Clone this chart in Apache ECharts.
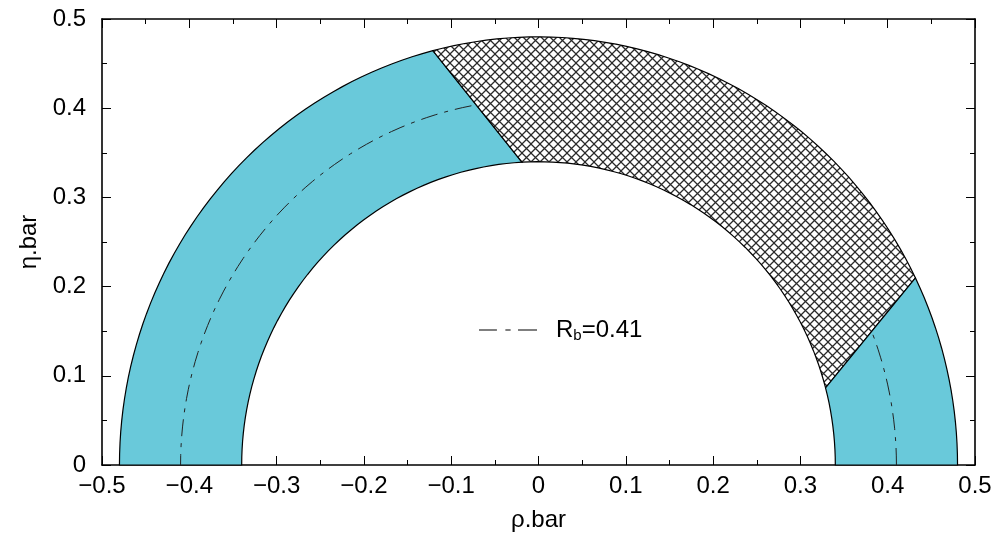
<!DOCTYPE html>
<html><head><meta charset="utf-8">
<script src="https://cdn.jsdelivr.net/npm/echarts@6/dist/echarts.min.js"></script>
<style>html,body{margin:0;padding:0;background:#fff}#c{width:997px;height:539px}</style>
</head><body><div id="c"></div>
<script>
// ---- data ----
const xTickLabels = ['\u22120.5','\u22120.4','\u22120.3','\u22120.2','\u22120.1','0','0.1','0.2','0.3','0.4','0.5'];
const yTickLabels = ['0','0.1','0.2','0.3','0.4','0.5'];
const xName = '\u03c1.bar';
const yName = '\u03b7.bar';
const innerRadius = 0.34;
const outerRadius = 0.48;
const bandRadius = 0.41;
const bandName = 'Rb=0.41';
// annulus regions, polar angles in degrees
const regionNames = ['left band', 'cross-hatched', 'right band'];
const regionOuterFrom = [104.6, 25.9, 0];
const regionOuterTo = [180, 104.6, 25.9];
const regionInnerFrom = [93.2, 14.75, 0];
const regionInnerTo = [180, 93.2, 14.75];
const regionHatched = [false, true, false];
// dash-dot arcs at R_b
const bandArcFrom = [100.8, 0];
const bandArcTo = [180, 21.3];

// ---- styles ----
const FONT = 'Liberation Sans';
const FS = 24;
const CYAN = '#69c9da';

function makeHatch() {
  const s = 9;
  const c = document.createElement('canvas');
  c.width = s; c.height = s;
  const g = c.getContext('2d');
  g.fillStyle = '#fff'; g.fillRect(0, 0, s, s);
  g.strokeStyle = '#2a2a2a'; g.lineWidth = 1.25;
  g.beginPath();
  g.moveTo(-1, -1); g.lineTo(s + 1, s + 1);
  g.moveTo(s + 1, -1); g.lineTo(-1, s + 1);
  g.stroke();
  return c;
}
const hatch = makeHatch();

function arcPts(r, a0, a1) {
  const n = Math.max(2, Math.ceil(Math.abs(a1 - a0) / 1.5));
  const pts = [];
  for (let k = 0; k <= n; k++) {
    const a = (a0 + (a1 - a0) * k / n) * Math.PI / 180;
    pts.push([r * Math.cos(a), r * Math.sin(a)]);
  }
  return pts;
}

const chart = echarts.init(document.getElementById('c'), null, {renderer: 'canvas'});
const xLab = v => xTickLabels[Math.round((v + 0.5) / 0.1)] || '';
const yLab = v => yTickLabels[Math.round(v / 0.1)] || '';
const axisCommon = {
  type: 'value',
  interval: 0.1,
  axisLine: {show: true, onZero: false, lineStyle: {color: '#000', width: 1.6}},
  axisTick: {show: true, inside: true, length: 9, lineStyle: {color: '#000', width: 1}},
  minorTick: {show: true, splitNumber: 2, length: 5, lineStyle: {color: '#000', width: 1}},
  splitLine: {show: false}
};

const option = {
  animation: false,
  backgroundColor: '#fff',
  grid: {left: 102, right: 22, top: 19, bottom: 74, containLabel: false},
  xAxis: [
    Object.assign({}, axisCommon, {
      min: -0.5, max: 0.5, position: 'bottom',
      name: xName, nameLocation: 'middle', nameGap: 43,
      nameTextStyle: {fontFamily: FONT, fontSize: FS, color: '#000'},
      axisLabel: {formatter: xLab, fontFamily: FONT, fontSize: FS, color: '#000', margin: 9}
    }),
    Object.assign({}, axisCommon, {
      min: -0.5, max: 0.5, position: 'top', axisLabel: {show: false}
    })
  ],
  yAxis: [
    Object.assign({}, axisCommon, {
      min: 0, max: 0.5, position: 'left',
      name: yName, nameLocation: 'middle', nameGap: 61,
      nameTextStyle: {fontFamily: FONT, fontSize: FS, color: '#000'},
      axisLabel: {formatter: yLab, fontFamily: FONT, fontSize: FS, color: '#000', margin: 16}
    }),
    Object.assign({}, axisCommon, {
      min: 0, max: 0.5, position: 'right', axisLabel: {show: false}
    })
  ],
  legend: {
    show: true,
    left: 474, top: 313,
    itemWidth: 58, itemHeight: 14,
    symbolKeepAspect: true,
    data: [{name: bandName, icon: 'path://M0 0H17V1.3H0Z M25 0H30V1.3H25Z M37 0H55V1.3H37Z'}],
    itemStyle: {color: '#555'},
    formatter: () => '{r|R}{s|b}{r|=0.41}',
    textStyle: {
      padding: [0, 0, 0, 14],
      rich: {
        r: {fontFamily: FONT, fontSize: FS, color: '#000'},
        s: {fontFamily: FONT, fontSize: 15, color: '#000', padding: [12, 0, 0, 0]}
      }
    }
  },
  series: [
    {
      type: 'custom',
      name: 'annulus',
      coordinateSystem: 'cartesian2d',
      silent: true,
      z: 1,
      data: regionNames.map((n, i) => ({name: n, value: [outerRadius, innerRadius, regionOuterFrom[i], regionOuterTo[i], regionInnerFrom[i], regionInnerTo[i]]})),
      renderItem: (params, api) => {
        const i = params.dataIndex;
        const ro = api.value(0), ri = api.value(1);
        const pts = arcPts(ro, api.value(2), api.value(3))
          .concat(arcPts(ri, api.value(5), api.value(4)))
          .map(p => api.coord(p));
        return {
          type: 'polygon',
          shape: {points: pts},
          style: {
            fill: regionHatched[i] ? {image: hatch, repeat: 'repeat'} : CYAN,
            stroke: '#000',
            lineWidth: 1.2
          }
        };
      }
    },
    {
      type: 'custom',
      name: bandName,
      coordinateSystem: 'cartesian2d',
      silent: true,
      z: 3,
      itemStyle: {color: '#555'},
      data: bandArcFrom.map((a, i) => [bandRadius, bandRadius, a, bandArcTo[i]]),
      renderItem: (params, api) => {
        const pts = arcPts(api.value(0), api.value(2), api.value(3)).map(p => api.coord(p));
        return {
          type: 'polyline',
          shape: {points: pts},
          style: {fill: null, stroke: '#222', lineWidth: 1, lineDash: [17, 7, 4, 7]}
        };
      }
    }
  ]
};
chart.setOption(option);
</script>
</body></html>
